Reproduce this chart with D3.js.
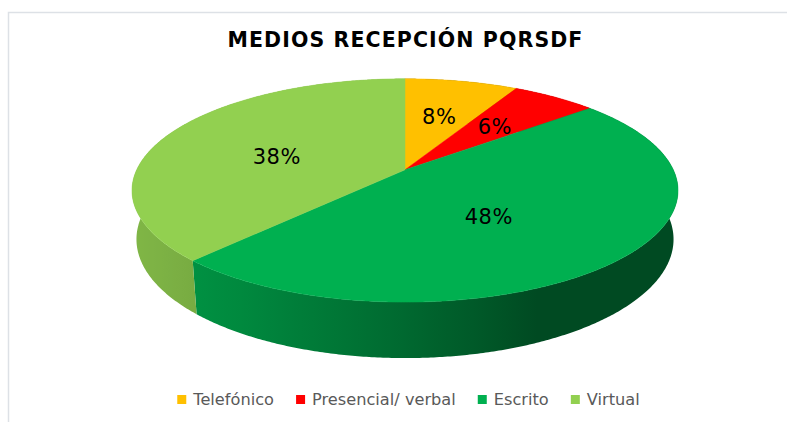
<!DOCTYPE html>
<html lang="es">
<head>
  <meta charset="UTF-8">
  <title>Medios recepción PQRSDF</title>
  <style>
    body { margin: 0; background: #fff; }
    svg { display: block; }
  </style>
</head>
<body>
  <div id="chart"></div>
<script src="https://cdn.jsdelivr.net/npm/d3@7"></script>
<script>
  // datos del grafico
  const categories = ["Telefónico", "Presencial/ verbal", "Escrito", "Virtual"]
  const values = [8, 6, 48, 38]
  const colors = ["#FFC000", "#FF0000", "#00B050", "#92D050"]
  const title = "MEDIOS RECEPCIÓN PQRSDF"

  const width = 787
  const height = 422
  const svg = d3.select("#chart").append("svg").attr("width", width).attr("height", height)
  const defs = svg.append("defs")

  // borde del area del grafico (cortado a la derecha y abajo)
  svg.append("rect")
    .attr("x", 8.5).attr("y", 12.5).attr("width", 800).attr("height", 430)
    .attr("fill", "none").attr("stroke", "#dde1e6").attr("stroke-width", 1.5)

  // proyeccion en perspectiva del pastel 3D
  const cx = 405, cy = 169.8, scale = 268.3, dist = 4.95
  const elev = 23.7 * Math.PI / 180
  const k = Math.cos(elev), m = Math.sin(elev)
  const depth = 0.198

  const proj = (a, r, drop) => {
    const x = r * Math.sin(a)
    const yu = r * m * Math.cos(a) - drop * k
    const q = dist + r * k * Math.cos(a) + drop * m
    return [cx + scale * dist * x / q, cy - scale * dist * yu / q]
  }

  const arcs = d3.pie().sort(null).value(d => d)(values)
  const step = Math.PI / 360
  const rad = deg => deg * Math.PI / 180

  const shade = a => Math.max(0.42, 0.45 + 0.42 * Math.cos(a - rad(250)))
  const darken = (c, f) => { c = d3.rgb(c); return d3.rgb(c.r * f, c.g * f, c.b * f).formatHex() }

  const line = d3.line()

  // caras laterales con degradado horizontal
  const sideG = svg.append("g")
  arcs.forEach((d, i) => {
    const pts = []
    for (let a = d.startAngle; a < d.endAngle; a += step) pts.push(proj(a, 1, 0))
    pts.push(proj(d.endAngle, 1, 0))
    const bottom = []
    for (let a = d.startAngle; a < d.endAngle; a += step) bottom.push(proj(a, 1, depth))
    bottom.push(proj(d.endAngle, 1, depth))
    const poly = pts.concat(bottom.reverse())

    // tramo visible (frente) para el degradado
    const a0 = Math.max(d.startAngle, rad(100.7))
    const a1 = Math.min(d.endAngle, rad(259.3))
    let fill = darken(colors[i], shade((d.startAngle + d.endAngle) / 2))
    if (a1 > a0) {
      const id = "side" + i
      const xs = d3.range(0, 21).map(j => a0 + (a1 - a0) * j / 20)
      const xA = proj(a1, 1, 0)[0], xB = proj(a0, 1, 0)[0]
      const g = defs.append("linearGradient").attr("id", id)
        .attr("gradientUnits", "userSpaceOnUse")
        .attr("x1", xA).attr("x2", xB).attr("y1", 0).attr("y2", 0)
      g.selectAll("stop").data(xs.slice().reverse()).enter().append("stop")
        .attr("offset", a => (proj(a, 1, 0)[0] - xA) / (xB - xA))
        .attr("stop-color", a => darken(colors[i], shade(a)))
      fill = "url(#" + id + ")"
    }
    sideG.append("path").attr("d", line(poly) + "Z").attr("fill", fill)
  })

  // caras superiores
  const topPoly = d => {
    const pts = [proj(0, 0, 0)]
    for (let a = d.startAngle; a < d.endAngle; a += step) pts.push(proj(a, 1, 0))
    pts.push(proj(d.endAngle, 1, 0))
    return pts
  }

  svg.append("g").selectAll("path").data(arcs).enter().append("path")
    .attr("d", d => line(topPoly(d)) + "Z")
    .attr("fill", (d, i) => colors[i])
    .attr("stroke", (d, i) => colors[i])
    .attr("stroke-width", 0.5)

  // etiquetas de porcentaje
  const labelPos = d => {
    const c = d3.polygonCentroid(topPoly(d))
    const p = proj((d.startAngle + d.endAngle) / 2, 0.5, 0)
    return [0.5 * c[0] + 0.5 * p[0], 0.5 * c[1] + 0.5 * p[1]]
  }
  svg.append("g").selectAll("text").data(arcs).enter().append("text")
    .attr("transform", d => "translate(" + labelPos(d) + ")")
    .attr("text-anchor", "middle")
    .attr("dy", "0.36em")
    .attr("font-family", "DejaVu Sans, Verdana, sans-serif")
    .attr("font-size", 21)
    .attr("letter-spacing", 0.5)
    .attr("fill", "#000")
    .text(d => d.data + "%")

  // titulo
  svg.append("text")
    .attr("x", 405.5).attr("y", 47)
    .attr("text-anchor", "middle")
    .attr("font-family", "DejaVu Sans, Verdana, sans-serif")
    .attr("font-weight", "bold")
    .attr("font-size", 20.5)
    .attr("letter-spacing", 1.1)
    .attr("fill", "#000")
    .text(title)

  // leyenda
  const legend = svg.append("g")
  const items = legend.selectAll("g").data(categories).enter().append("g")
  items.append("rect").attr("width", 9).attr("height", 9).attr("y", -10)
    .attr("fill", (d, i) => colors[i])
  items.append("text").attr("x", 16).attr("y", 0)
    .attr("font-family", "DejaVu Sans, Verdana, sans-serif")
    .attr("font-size", 16.2)
    .attr("fill", "#595959")
    .text(d => d)
  let xpos = 0
  items.each(function () {
    d3.select(this).attr("transform", "translate(" + xpos + ",0)")
    xpos += this.getBBox().width + 22
  })
  const total = xpos - 22
  legend.attr("transform", "translate(" + (408.5 - total / 2) + ",405)")
</script>
</body>
</html>
